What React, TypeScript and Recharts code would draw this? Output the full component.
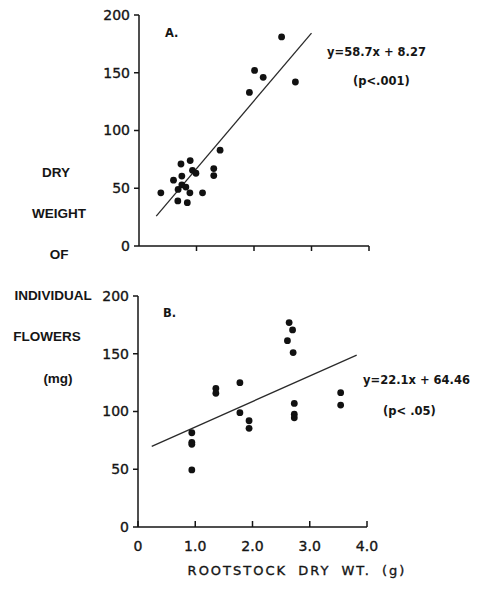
import React from "react";
import { ScatterChart, Scatter, XAxis, YAxis, ReferenceLine } from "recharts";

// Panel A: flower dry weight vs rootstock dry weight
const aX = [0.38, 0.6, 0.73, 0.89, 0.745, 0.68, 0.745, 0.815, 0.675, 0.84, 0.885, 0.93, 0.99, 1.105, 1.3, 1.3, 1.41, 1.92, 2.01, 2.16, 2.48, 2.72];
const aY = [46, 57, 71, 74, 60.5, 49, 53, 51, 39, 37.5, 46, 65.5, 63, 46, 67, 61, 83, 133, 152, 146, 181, 142];
const aSlope = 58.7;
const aIntercept = 8.27;
const aFitRange = [0.3, 3.0];

// Panel B
const bX = [0.94, 0.94, 0.94, 0.94, 1.36, 1.36, 1.78, 1.78, 1.94, 1.94, 2.64, 2.7, 2.61, 2.71, 2.73, 2.73, 2.73, 3.54, 3.54];
const bY = [81.6, 73.3, 71.6, 49.4, 120, 115.8, 125, 99, 92, 85.4, 177, 170.6, 161.3, 151, 107, 97.6, 94.6, 116.3, 105.6];
const bSlope = 22.1;
const bIntercept = 64.46;
const bFitRange = [0.24, 3.82];

const xTicks = [0, 1, 2, 3, 4];
const xTickLabels = ["0", "1.0", "2.0", "3.0", "4.0"];
const yTicks = [0, 50, 100, 150, 200];
const yLabelLines = ["DRY", "WEIGHT", "OF", "INDIVIDUAL", "FLOWERS", "(mg)"];

const INK = "#151515";
const tickFont = { fontFamily: "DejaVu Sans", fontSize: 14, fill: INK, stroke: INK, strokeWidth: 0.35 };

const toPoints = (xs: number[], ys: number[]) => xs.map((x, i) => ({ x, y: ys[i] }));
const fitSegment = (m: number, b: number, r: number[]) => r.map((x) => ({ x, y: m * x + b }));

const Dot = (p: any) => <circle cx={p.cx} cy={p.cy} r={3.4} fill="#111" />;

export default function App() {
  const ptsA = toPoints(aX, aY);
  const ptsB = toPoints(bX, bY);
  const lineA = fitSegment(aSlope, aIntercept, aFitRange);
  const lineB = fitSegment(bSlope, bIntercept, bFitRange);

  return (
    <div style={{ position: "absolute", left: 0, top: 0, width: 484, height: 592, background: "#fff" }}>
      <div style={{ position: "absolute", left: 0, top: 0 }}>
        <ScatterChart width={484} height={260} margin={{ top: 15, right: 115, left: 0, bottom: 0 }}>
          <XAxis
            type="number"
            dataKey="x"
            domain={[0, 4]}
            ticks={xTicks.slice(1)}
            height={14}
            tickSize={5}
            tickFormatter={() => ""}
            stroke={INK}
            strokeWidth={1.5}
          />
          <YAxis
            type="number"
            dataKey="y"
            domain={[0, 200]}
            ticks={yTicks}
            width={139}
            tickSize={5}
            tickMargin={4}
            tick={tickFont}
            stroke={INK}
            strokeWidth={1.5}
          />
          <ReferenceLine segment={lineA} stroke="#2a2a2a" strokeWidth={1.3} />
          <Scatter data={ptsA} shape={Dot} isAnimationActive={false} />
        </ScatterChart>
      </div>

      <div style={{ position: "absolute", left: 0, top: 270 }}>
        <ScatterChart width={484} height={322} margin={{ top: 26, right: 117, left: 0, bottom: 0 }}>
          <XAxis
            type="number"
            dataKey="x"
            domain={[0, 4]}
            ticks={xTicks}
            height={65}
            tickSize={-6}
            tickMargin={20}
            tickFormatter={(v: number) => xTickLabels[xTicks.indexOf(v)]}
            tick={tickFont}
            stroke={INK}
            strokeWidth={1.5}
          />
          <YAxis
            type="number"
            dataKey="y"
            domain={[0, 200]}
            ticks={yTicks}
            width={138}
            tickSize={5}
            tickMargin={4}
            tick={tickFont}
            stroke={INK}
            strokeWidth={1.5}
          />
          <ReferenceLine segment={lineB} stroke="#2a2a2a" strokeWidth={1.3} />
          <Scatter data={ptsB} shape={Dot} isAnimationActive={false} />
        </ScatterChart>
      </div>

      <svg width={484} height={592} style={{ position: "absolute", left: 0, top: 0, pointerEvents: "none" }}>
        <g fontFamily="Liberation Sans" fontWeight="bold" fontSize={13.5} fill={INK} textAnchor="middle" dominantBaseline="central">
          {yLabelLines.map((t, i) => (
            <text key={t} x={[56, 59, 59, 53, 47, 58][i]} y={172 + i * 41.2}>
              {t}
            </text>
          ))}
        </g>
        <g fontFamily="DejaVu Sans" fontWeight="bold" fontSize={11.5} fill={INK} dominantBaseline="central">
          <text x={165} y={33}>A.</text>
          <text x={163} y={313}>B.</text>
          <text x={327} y={52}>y=58.7x + 8.27</text>
          <text x={353} y={81}>(p&lt;.001)</text>
          <text x={363} y={380}>y=22.1x + 64.46</text>
          <text x={383} y={411}>(p&lt; .05)</text>
        </g>
        <text
          x={297}
          y={570}
          fontFamily="DejaVu Sans"
          fontSize={13}
          letterSpacing={2}
          wordSpacing={5}
          fill={INK}
          stroke={INK}
          strokeWidth={0.35}
          textAnchor="middle"
          dominantBaseline="central"
        >
          ROOTSTOCK DRY WT. (g)
        </text>
      </svg>
    </div>
  );
}
